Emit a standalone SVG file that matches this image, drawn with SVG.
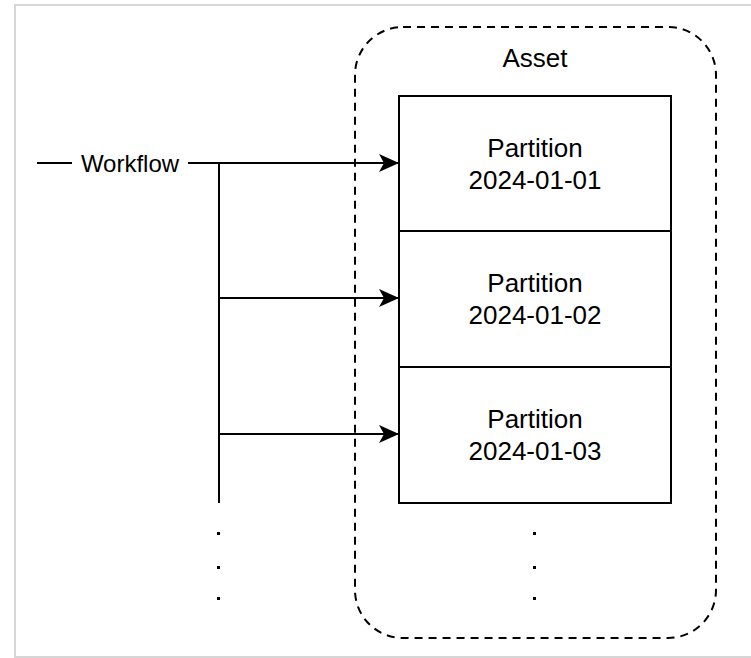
<svg xmlns="http://www.w3.org/2000/svg" width="751" height="658" viewBox="0 0 751 658">
<defs>
<style>
.t{font-family:"Liberation Sans",Arial,sans-serif;font-size:26px;fill:#000;text-anchor:middle}
.w{font-size:24px}
.ln{stroke:#000;stroke-width:2;fill:none}
.box{fill:#fff;stroke:#000;stroke-width:2}
.dot{fill:#000}
</style>
<marker id="ah" markerWidth="20" markerHeight="18" viewBox="0 0 20 18" refX="20" refY="9" orient="auto" markerUnits="userSpaceOnUse">
<path d="M0,0 L20,9 L0,18 L5,9 Z" fill="#000"/>
</marker>
</defs>
<rect x="0" y="0" width="751" height="658" fill="#fff"/>
<rect x="15" y="5" width="750" height="652" fill="none" stroke="#d6d6d6" stroke-width="2"/>
<g id="asset">
<rect x="355" y="27" width="361" height="611" rx="48" ry="48" fill="none" stroke="#000" stroke-width="2" stroke-dasharray="8 6"/>
<text class="t" x="535" y="67">Asset</text>
</g>
<g id="p1">
<rect class="box" x="399" y="96" width="272" height="135"/>
<text class="t" x="535" y="157">Partition</text>
<text class="t" x="535" y="189">2024-01-01</text>
</g>
<g id="p2">
<rect class="box" x="399" y="231" width="272" height="136"/>
<text class="t" x="535" y="292">Partition</text>
<text class="t" x="535" y="324">2024-01-02</text>
</g>
<g id="p3">
<rect class="box" x="399" y="367" width="272" height="136"/>
<text class="t" x="535" y="428">Partition</text>
<text class="t" x="535" y="460">2024-01-03</text>
</g>
<g id="workflow">
<text class="t w" x="130" y="172">Workflow</text>
</g>
<g id="connectors">
<line class="ln" x1="37" y1="163" x2="72" y2="163"/>
<line class="ln" x1="188" y1="163" x2="399" y2="163" marker-end="url(#ah)"/>
<line class="ln" x1="219" y1="163" x2="219" y2="503"/>
<line class="ln" x1="219" y1="298" x2="399" y2="298" marker-end="url(#ah)"/>
<line class="ln" x1="219" y1="434" x2="399" y2="434" marker-end="url(#ah)"/>
</g>
<g id="dots">
<rect class="dot" x="217" y="532" width="3" height="3"/>
<rect class="dot" x="217" y="566" width="3" height="3"/>
<rect class="dot" x="217" y="597" width="3" height="3"/>
<rect class="dot" x="533" y="532" width="3" height="3"/>
<rect class="dot" x="533" y="566" width="3" height="3"/>
<rect class="dot" x="533" y="597" width="3" height="3"/>
</g>
</svg>
